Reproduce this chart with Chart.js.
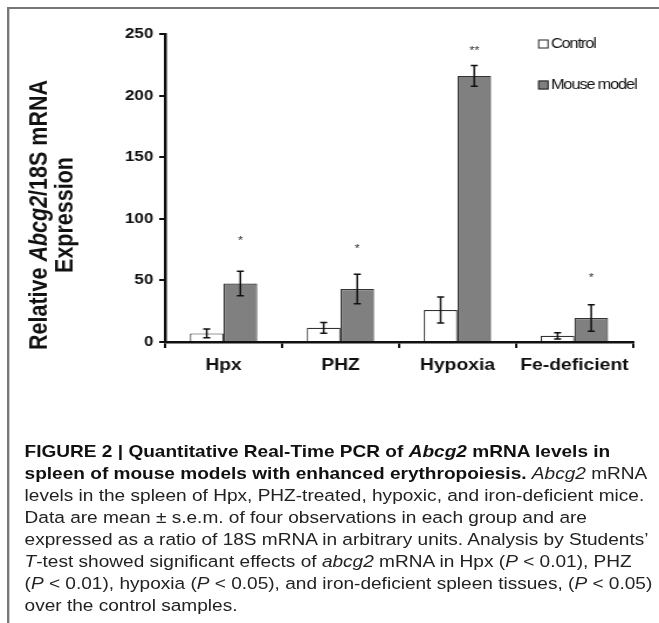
<!DOCTYPE html>
<html>
<head>
<meta charset="utf-8">
<script src="https://cdn.jsdelivr.net/npm/chart.js@4"></script>
<style>
  html, body { margin: 0; padding: 0; background: #fff; }
  body { width: 659px; height: 623px; position: relative; overflow: hidden; }
  /* the reference figure is stretched horizontally; reproduce with a scaleX stage */
  #stage { position: absolute; left: 0; top: 0; width: 563px; height: 623px;
           transform: scaleX(1.1705); transform-origin: 0 0; }
  #frame { position: absolute; left: 6px; top: 7px; width: 700px; height: 700px;
           border-top: 2px solid #777; border-left: 2px solid #777; }
  #wrap { position: absolute; left: 0; top: 0; width: 563px; height: 400px; }
  #caption { position: absolute; left: 21px; top: 440px; width: 560px;
             font-family: "Liberation Sans", Arial, Helvetica, sans-serif;
             font-size: 16.3px; line-height: 22px; color: #222; white-space: nowrap; }
  #caption b { color: #111; }
</style>
</head>
<body>
<div id="stage">
<div id="frame"></div>
<div id="wrap"><canvas id="c" width="563" height="400"></canvas></div>
<div id="caption">
<b>FIGURE 2 | Quantitative Real-Time PCR of <i>Abcg2</i> mRNA levels in</b><br>
<b>spleen of mouse models with enhanced erythropoiesis.</b> <i>Abcg2</i> mRNA<br>
levels in the spleen of Hpx, PHZ-treated, hypoxic, and iron-deficient mice.<br>
Data are mean ± s.e.m. of four observations in each group and are<br>
expressed as a ratio of 18S mRNA in arbitrary units. Analysis by Students’<br>
<i>T</i>-test showed significant effects of <i>abcg2</i> mRNA in Hpx (<i>P</i> &lt; 0.01), PHZ<br>
(<i>P</i> &lt; 0.01), hypoxia (<i>P</i> &lt; 0.05), and iron-deficient spleen tissues, (<i>P</i> &lt; 0.05)<br>
over the control samples.
</div>
</div>
<script>
const categories = ["Hpx", "PHZ", "Hypoxia", "Fe-deficient"];
const seriesNames = ["Control", "Mouse model"];
const controlValues = [7, 11.5, 26, 5];
const controlErrors = [3.5, 4.3, 10.5, 2.5];
const mouseValues = [47.5, 43, 216, 19.5];
const mouseErrors = [10, 12, 8.5, 10.8];
const starLabels = ["*", "*", "**", "*"];
const starValues = [84, 77, 238, 54];
const yTicks = [0, 50, 100, 150, 200, 250];

const errorArrays = [controlErrors, mouseErrors];

const errorBarPlugin = {
  id: 'errorBars',
  afterDatasetsDraw(chart) {
    const ctx = chart.ctx;
    const y = chart.scales.y;
    ctx.save();
    ctx.strokeStyle = '#111';
    ctx.lineWidth = 1.5;
    chart.data.datasets.forEach((ds, i) => {
      const meta = chart.getDatasetMeta(i);
      meta.data.forEach((el, j) => {
        const v = ds.data[j], e = errorArrays[i][j];
        const yt = y.getPixelForValue(v + e), yb = y.getPixelForValue(v - e);
        const x = el.x, cap = 3;
        ctx.beginPath();
        ctx.moveTo(x, yt); ctx.lineTo(x, yb);
        ctx.moveTo(x - cap, yt); ctx.lineTo(x + cap, yt);
        ctx.moveTo(x - cap, yb); ctx.lineTo(x + cap, yb);
        ctx.stroke();
      });
    });
    const meta = chart.getDatasetMeta(1);
    ctx.fillStyle = '#333';
    ctx.font = '11px "Liberation Sans", Arial, sans-serif';
    ctx.textAlign = 'center';
    ctx.textBaseline = 'middle';
    meta.data.forEach((el, j) => {
      ctx.fillText(starLabels[j], el.x, y.getPixelForValue(starValues[j]) + 2);
    });
    ctx.restore();
  }
};

const legendTitlePlugin = {
  id: 'legendTitle',
  afterDraw(chart) {
    const ctx = chart.ctx;
    const a = chart.chartArea;
    ctx.save();
    const lx = a.right - 81;
    const rows = [[44, '#ffffff'], [85, '#808080']];
    ctx.font = '14px "Liberation Sans", Arial, sans-serif';
    try { ctx.letterSpacing = '-1px'; } catch (e) {}
    ctx.textBaseline = 'middle';
    ctx.textAlign = 'left';
    rows.forEach((r, i) => {
      ctx.fillStyle = r[1];
      ctx.fillRect(lx, r[0] - 4.5, 9, 9);
      ctx.strokeStyle = '#222';
      ctx.lineWidth = 1;
      ctx.strokeRect(lx + 0.5, r[0] - 4, 8, 8);
      ctx.fillStyle = '#111';
      ctx.fillText(seriesNames[i], lx + 11, r[0] + 0.5);
    });
    try { ctx.letterSpacing = '0px'; } catch (e) {}
    const cy = (a.top + a.bottom) / 2 + 27;
    ctx.translate(0, cy);
    ctx.rotate(-Math.PI / 2);
    ctx.fillStyle = '#111';
    ctx.textBaseline = 'middle';
    const parts = [['Relative ', 'bold'], ['Abcg2', 'italic bold'], ['/18S mRNA', 'bold']];
    const fam = ' 21.5px "Liberation Sans", Arial, sans-serif';
    let total = 0;
    parts.forEach(p => { ctx.font = p[1] + fam; total += ctx.measureText(p[0]).width; });
    let x = -total / 2;
    ctx.textAlign = 'left';
    parts.forEach(p => { ctx.font = p[1] + fam; ctx.fillText(p[0], x, 34); x += ctx.measureText(p[0]).width; });
    ctx.font = 'bold' + fam;
    ctx.textAlign = 'center';
    ctx.fillText('Expression', 0, 56);
    ctx.restore();
  }
};

new Chart(document.getElementById('c'), {
  type: 'bar',
  data: {
    labels: categories,
    datasets: [
      { label: seriesNames[0], data: controlValues, backgroundColor: '#ffffff',
        borderColor: '#333333', borderWidth: 1.2, borderSkipped: 'bottom' },
      { label: seriesNames[1], data: mouseValues, backgroundColor: '#808080',
        borderColor: '#333333', borderWidth: 1.2, borderSkipped: 'bottom' }
    ]
  },
  options: {
    responsive: false,
    animation: false,
    events: [],
    layout: { padding: { left: 0, right: 22.3, top: 34, bottom: 16 } },
    datasets: { bar: { categoryPercentage: 0.575, barPercentage: 1.0 } },
    plugins: { legend: { display: false }, tooltip: { enabled: false } },
    scales: {
      x: {
        grid: { drawOnChartArea: false, drawTicks: true, tickLength: 6, color: '#111', lineWidth: 2, offset: true },
        border: { display: true, color: '#111', width: 2.5 },
        ticks: { color: '#111', padding: 8, maxRotation: 0, minRotation: 0, autoSkip: false,
                 font: { family: '"Liberation Sans", Arial, sans-serif', size: 16.5, weight: 'bold' } },
        afterFit(s) { s.height = 42; }
      },
      y: {
        min: 0, max: 250,
        afterBuildTicks(s) { s.ticks = yTicks.map(v => ({ value: v })); },
        grid: { drawOnChartArea: false, drawTicks: true, tickLength: 5, color: '#111', lineWidth: 2 },
        border: { display: true, color: '#111', width: 2.5 },
        ticks: { color: '#111', padding: 5, font: { family: '"Liberation Sans", Arial, sans-serif', size: 14.5, weight: 'bold' } },
        afterFit(s) { s.width = 141; }
      }
    }
  },
  plugins: [errorBarPlugin, legendTitlePlugin]
});
</script>
</body>
</html>
